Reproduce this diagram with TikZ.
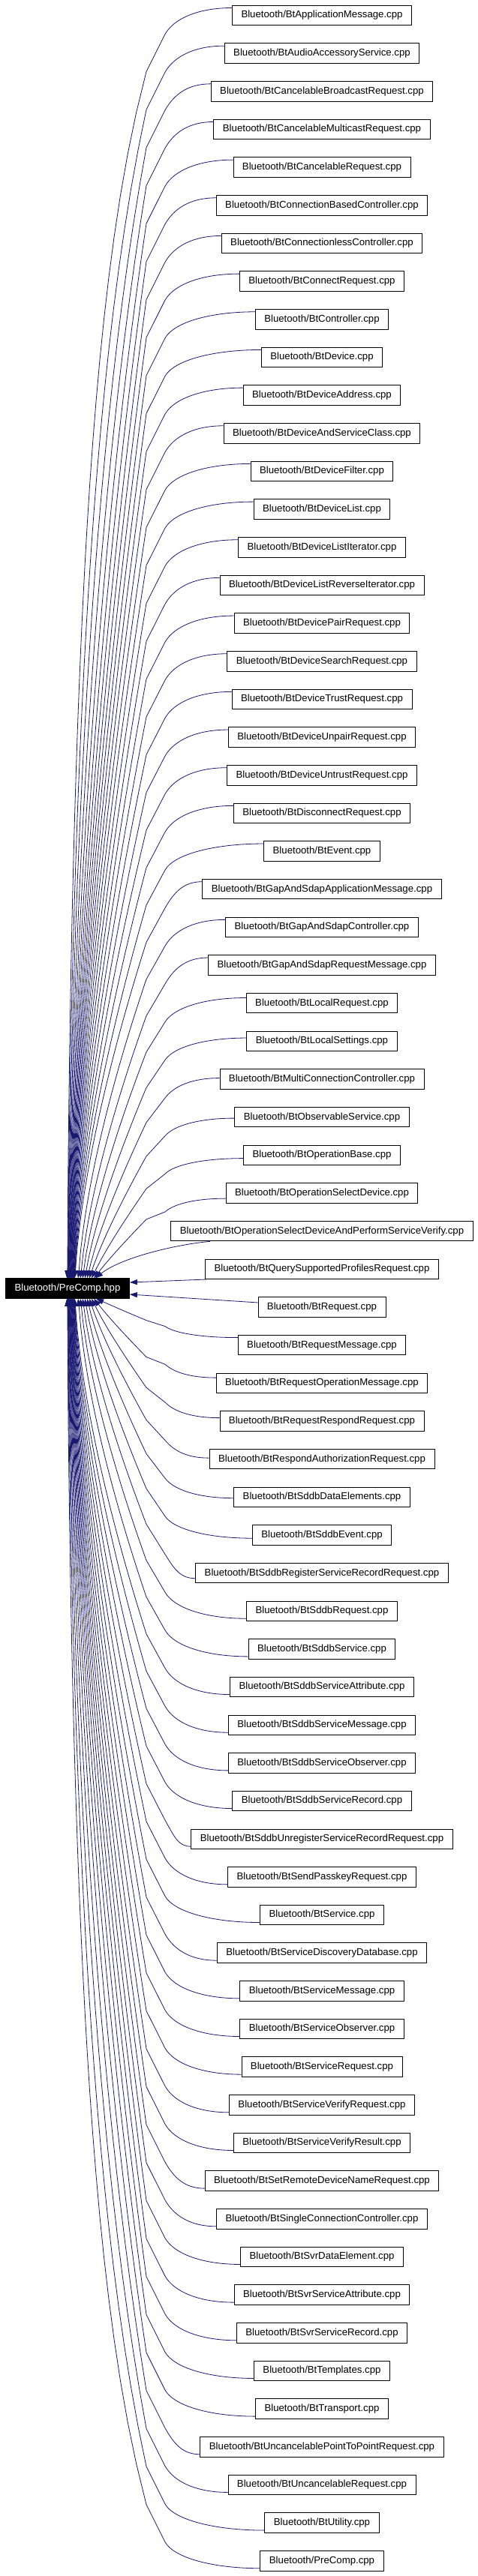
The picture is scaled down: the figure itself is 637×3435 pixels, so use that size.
\documentclass[tikz,border=0pt]{standalone}
\usepackage{fontspec}
\setmainfont{Liberation Sans}
\usetikzlibrary{arrows.meta,calc}
\definecolor{midnightblue}{RGB}{25,25,112}

\begin{document}
\begin{tikzpicture}
  [x=1pt, y=-1pt,
   filebox/.style={rectangle,draw=black,fill=white,line width=0.9pt,inner xsep=12pt,inner ysep=0pt,minimum height=26.5pt,font=\fontsize{13.2}{15}\selectfont},
   rootbox/.style={filebox,fill=black,text=white},
   edge/.style={draw=midnightblue,line width=0.8pt,-{Triangle[length=10pt,width=7pt]}}]
  \useasboundingbox (0,0) rectangle (637,3435);

  \node [rootbox] (root) at (90,1718) {Bluetooth/PreComp.hpp};

  \foreach \name [count=\i] in {BtApplicationMessage, BtAudioAccessoryService,
      BtCancelableBroadcastRequest, BtCancelableMulticastRequest, BtCancelableRequest,
      BtConnectionBasedController, BtConnectionlessController, BtConnectRequest,
      BtController, BtDevice, BtDeviceAddress, BtDeviceAndServiceClass, BtDeviceFilter,
      BtDeviceList, BtDeviceListIterator, BtDeviceListReverseIterator, BtDevicePairRequest,
      BtDeviceSearchRequest, BtDeviceTrustRequest, BtDeviceUnpairRequest,
      BtDeviceUntrustRequest, BtDisconnectRequest, BtEvent, BtGapAndSdapApplicationMessage,
      BtGapAndSdapController, BtGapAndSdapRequestMessage, BtLocalRequest, BtLocalSettings,
      BtMultiConnectionController, BtObservableService, BtOperationBase,
      BtOperationSelectDevice, BtOperationSelectDeviceAndPerformServiceVerify,
      BtQuerySupportedProfilesRequest, BtRequest, BtRequestMessage,
      BtRequestOperationMessage, BtRequestRespondRequest, BtRespondAuthorizationRequest,
      BtSddbDataElements, BtSddbEvent, BtSddbRegisterServiceRecordRequest, BtSddbRequest,
      BtSddbService, BtSddbServiceAttribute, BtSddbServiceMessage, BtSddbServiceObserver,
      BtSddbServiceRecord, BtSddbUnregisterServiceRecordRequest, BtSendPasskeyRequest,
      BtService, BtServiceDiscoveryDatabase, BtServiceMessage, BtServiceObserver,
      BtServiceRequest, BtServiceVerifyRequest, BtServiceVerifyResult,
      BtSetRemoteDeviceNameRequest, BtSingleConnectionController, BtSvrDataElement,
      BtSvrServiceAttribute, BtSvrServiceRecord, BtTemplates, BtTransport,
      BtUncancelablePointToPointRequest, BtUncancelableRequest, BtUtility, PreComp}
    \node [filebox] (n\i) at (429,{20.5+(\i-1)*50.66}) {Bluetooth/\name.cpp};

  \foreach \j in {1,...,33}
    \foreach \s/\ye/\side in {1/1704/north west,-1/1732/south west} {
      \pgfmathtruncatemacro\kk{\s>0 ? \j : 69-\j}
      \ifnum\kk=33 \else
      \pgfmathsetmacro\yc{20.5+(\kk-1)*50.66}
      \pgfmathsetmacro\off{\j>26 ? -10+2.86*(\j-26) : -10}
      \pgfmathsetmacro\ysy{\yc+\off*\s}
      \pgfmathsetmacro\sh{-\off*\s}
      \pgfmathsetmacro\yb{\yc+25*\s}
      \pgfmathsetmacro\yt{\ysy+0.4*(\yb-\ysy)}
      \pgfmathsetmacro\hgt{abs(\ye-\yc)}
      \pgfmathsetmacro\offk{max(75*(1-exp(-\hgt/180)),33)}
      \pgfmathsetmacro\yk{\yc+\offk*\s}
      \pgfmathsetmacro\spn{abs(\ye-\yk)}
      \pgfmathsetmacro\xe{\j<25 ? 90+0.45*(\j-1) : 102+3*(\j-24)}
      \pgfmathsetmacro\qq{1+0.5*min(1,\spn/400)}
      \pgfmathsetmacro\bb{2.6*exp(-(\j-1)/2.5)}
      \pgfmathsetmacro\tend{1-14/\spn}
      \coordinate (s\kk) at ([yshift=\sh*1pt]n\kk.west);
      \draw [edge] (s\kk) .. controls ($(s\kk)!0.5!(220,\ysy)$) and (232,\yt) .. (220,\yb) -- (195,\yk)
        -- plot [domain=0:\tend, samples=30, variable=\pp] ({\xe+(195-\xe)*(1-\pp)^\qq/(1+\bb*\pp)}, {\yk+\pp*(\ye-\yk)})
        -- ($(root.\side)+(\xe-8,0)$);
      \fi
    }

  \draw [edge] ([xshift=-149pt]n33.south) .. controls (230,1660) and (160,1678) .. ($(root.north west)+(120,0)$);
  \draw [edge] ([xshift=2pt]n34.south west) -- ([yshift=8pt]root.east);
  \draw [edge] ([yshift=6pt]n35.west) -- ([yshift=-8pt]root.east);
\end{tikzpicture}
\end{document}
